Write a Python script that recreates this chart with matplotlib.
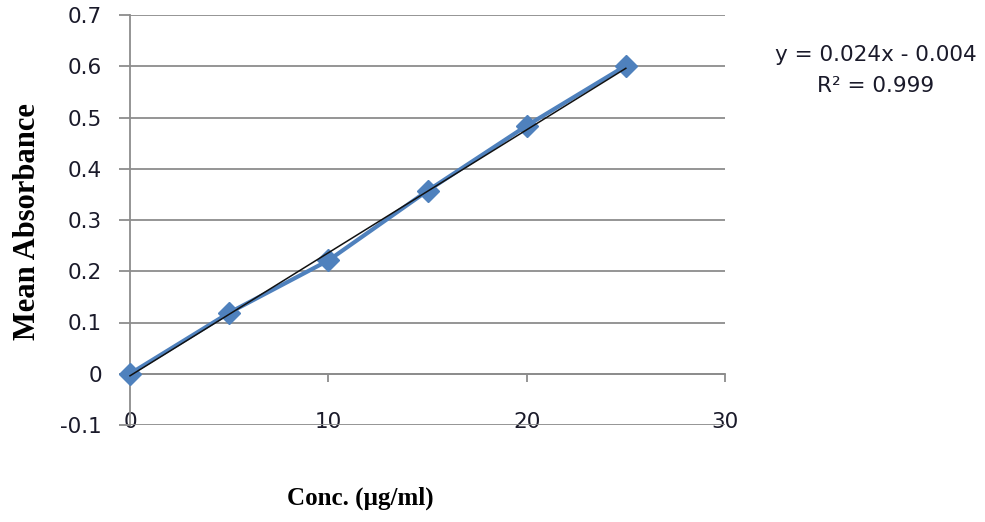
import matplotlib
matplotlib.use('Agg')
import matplotlib.pyplot as plt
import numpy as np

# calibration data
conc = [0, 5, 10, 15, 20, 25]
absorbance = [0.0, 0.119, 0.221, 0.357, 0.484, 0.601]

# linear fit as reported on the chart
slope = 0.024
intercept = -0.004
r_squared = 0.999

x_ticks = [0, 10, 20, 30]
y_ticks = [-0.1, 0, 0.1, 0.2, 0.3, 0.4, 0.5, 0.6, 0.7]

GRID = '#8c8c8c'
BLUE = '#4f81bd'
TXT = '#1a1a2a'

fig = plt.figure(figsize=(9.85, 5.22), dpi=100)
ax = fig.add_axes([130 / 985, 1 - 425 / 522, 595 / 985, 410 / 522])

ax.set_xlim(0, 30)
ax.set_ylim(-0.1, 0.7)

# gridlines, no box except the value axis
for s in ('top', 'right', 'bottom'):
    ax.spines[s].set_visible(False)
ax.spines['left'].set_color(GRID)
ax.spines['left'].set_linewidth(1.3)
ax.set_yticks(y_ticks)
ax.set_yticklabels(['-0.1', '0', '0.1', '0.2', '0.3', '0.4', '0.5', '0.6', '0.7'])
ax.yaxis.grid(True, color=GRID, lw=1.3)
ax.set_axisbelow(True)
ax.tick_params(axis='y', direction='out', length=8, width=1.3, color=GRID,
               pad=12, labelsize=15.5, labelcolor=TXT)

# x labels sit on the bottom gridline
ax.set_xticks(x_ticks)
ax.set_xticklabels([str(v) for v in x_ticks])
ax.tick_params(axis='x', length=0, pad=-9, labelsize=15.5, labelcolor=TXT)

# category axis crossing at y = 0 with ticks pointing down
zero_ax = ax.secondary_xaxis(0.1 / 0.8)
zero_ax.set_xticks(x_ticks)
zero_ax.set_xticklabels([])
zero_ax.spines['bottom'].set_color(GRID)
zero_ax.spines['bottom'].set_linewidth(1.3)
zero_ax.tick_params(direction='out', length=6, width=1.3, color=GRID)

# measured series
ax.plot(conc, absorbance, color=BLUE, lw=3, marker='D', markersize=11,
        markeredgecolor=BLUE, zorder=3, clip_on=False)

# trendline
fit_x = np.array([conc[0], conc[-1]])
ax.plot(fit_x, slope * fit_x + intercept, color='#111111', lw=1.1, zorder=4,
        clip_on=False)

fig.text(876 / 985, 1 - 55 / 522, f'y = {slope}x - {abs(intercept)}',
         ha='center', va='center', fontsize=15.5, color=TXT)
fig.text(876 / 985, 1 - 86 / 522, f'R² = {r_squared}',
         ha='center', va='center', fontsize=15.5, color=TXT)

fig.text(28 / 985, 1 - 222 / 522, 'Mean Absorbance', rotation=90,
         ha='center', va='center', fontsize=22, fontweight='bold',
         family='Liberation Serif')
fig.text(360 / 985, 1 - 498 / 522, 'Conc. (µg/ml)',
         ha='center', va='center', fontsize=18, fontweight='bold',
         family='Liberation Serif')

fig.savefig('out.png', dpi=100, facecolor='white')
